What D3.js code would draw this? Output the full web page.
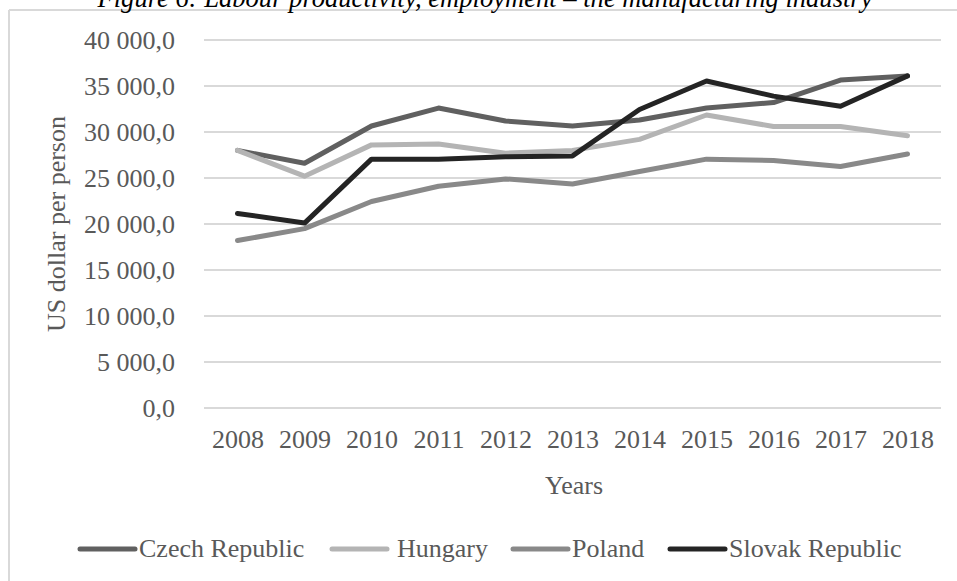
<!DOCTYPE html>
<html>
<head>
<meta charset="utf-8">
<script src="https://cdn.jsdelivr.net/npm/d3@7/dist/d3.min.js"></script>
<style>
  html, body { margin: 0; padding: 0; background: #fff; }
  svg { display: block; }
  text { font-family: "Liberation Serif", "Times New Roman", serif; fill: #595959; }
</style>
</head>
<body>
<svg id="chart" width="957" height="581"></svg>
<script>
const years = ["2008","2009","2010","2011","2012","2013","2014","2015","2016","2017","2018"];
const seriesNames = ["Czech Republic", "Hungary", "Poland", "Slovak Republic"];
const czech   = [28000, 26600, 30650, 32600, 31200, 30650, 31300, 32600, 33200, 35650, 36100];
const hungary = [28000, 25200, 28600, 28700, 27700, 28000, 29200, 31850, 30600, 30600, 29600];
const poland  = [18200, 19500, 22450, 24100, 24900, 24350, 25700, 27050, 26900, 26250, 27600];
const slovak  = [21150, 20100, 27050, 27050, 27300, 27400, 32450, 35550, 33900, 32800, 36100];
const yTicks  = [0, 5000, 10000, 15000, 20000, 25000, 30000, 35000, 40000];
const titleText = "Figure 6: Labour productivity, employment – the manufacturing industry";
const yTitle = "US dollar per person";
const xTitle = "Years";

const seriesValues = [czech, hungary, poland, slovak];
const colors = ["#606060", "#b4b4b4", "#898989", "#242424"];

const svg = d3.select("#chart");
const plot = { left: 204, right: 941, top: 40, bottom: 408 };

const x = d3.scalePoint().domain(years).range([plot.left, plot.right]).padding(0.5);
const y = d3.scaleLinear().domain([0, 40000]).range([plot.bottom, plot.top]);

const loc = d3.formatLocale({ decimal: ",", thousands: " ", grouping: [3], currency: ["", ""] });
const fmt = loc.format(",.1f");

// frame
svg.append("line").attr("x1", 9).attr("x2", 957).attr("y1", 10).attr("y2", 10)
  .attr("stroke", "#d9d9d9").attr("stroke-width", 2);
svg.append("line").attr("x1", 9).attr("x2", 9).attr("y1", 10).attr("y2", 581)
  .attr("stroke", "#d9d9d9").attr("stroke-width", 2);

// title (cut at the top)
svg.append("text").attr("x", 485).attr("y", 7).attr("text-anchor", "middle")
  .style("font-style", "italic").style("font-size", "27px").style("fill", "#000")
  .attr("textLength", 775).attr("lengthAdjust", "spacingAndGlyphs")
  .text(titleText);

// gridlines
svg.append("g").selectAll("line").data(yTicks).join("line")
  .attr("x1", plot.left).attr("x2", plot.right)
  .attr("y1", d => y(d)).attr("y2", d => y(d))
  .attr("stroke", "#d9d9d9").attr("stroke-width", 2);

// y axis labels
const yAxis = d3.axisLeft(y).tickValues(yTicks).tickFormat(fmt).tickSize(0).tickPadding(0);
const gy = svg.append("g").attr("transform", "translate(175,0)").call(yAxis);
gy.select(".domain").remove();
gy.selectAll("text").style("font-size", "26px").style("font-family", "Liberation Serif, serif").attr("fill", "#595959");

// x axis labels
const xAxis = d3.axisBottom(x).tickSize(0).tickPadding(0);
const gx = svg.append("g").attr("transform", "translate(0,430)").call(xAxis);
gx.select(".domain").remove();
gx.selectAll("text").style("font-size", "26px").style("font-family", "Liberation Serif, serif").attr("fill", "#595959");

// axis titles
svg.append("text").attr("transform", "translate(65,224) rotate(-90)")
  .attr("text-anchor", "middle").style("font-size", "26px").text(yTitle);
svg.append("text").attr("x", 574).attr("y", 494).attr("text-anchor", "middle")
  .style("font-size", "26px").text(xTitle);

// lines
const line = d3.line().x((d, i) => x(years[i])).y(d => y(d));
svg.append("g").selectAll("path").data(seriesValues).join("path")
  .attr("d", d => line(d))
  .attr("fill", "none")
  .attr("stroke", (d, i) => colors[i])
  .attr("stroke-width", 5)
  .attr("stroke-linecap", "round")
  .attr("stroke-linejoin", "round");

// legend
const legendX = [80, 332, 513, 670];
const lg = svg.append("g").selectAll("g").data(seriesNames).join("g")
  .attr("transform", (d, i) => `translate(${legendX[i]},549)`);
lg.append("line").attr("x1", 0).attr("x2", 55).attr("y1", 0).attr("y2", 0)
  .attr("stroke", (d, i) => colors[i]).attr("stroke-width", 5).attr("stroke-linecap", "round");
lg.append("text").attr("x", (d, i) => i === 1 ? 65 : 59).attr("y", 8)
  .style("font-size", "26px").text(d => d);
</script>
</body>
</html>
